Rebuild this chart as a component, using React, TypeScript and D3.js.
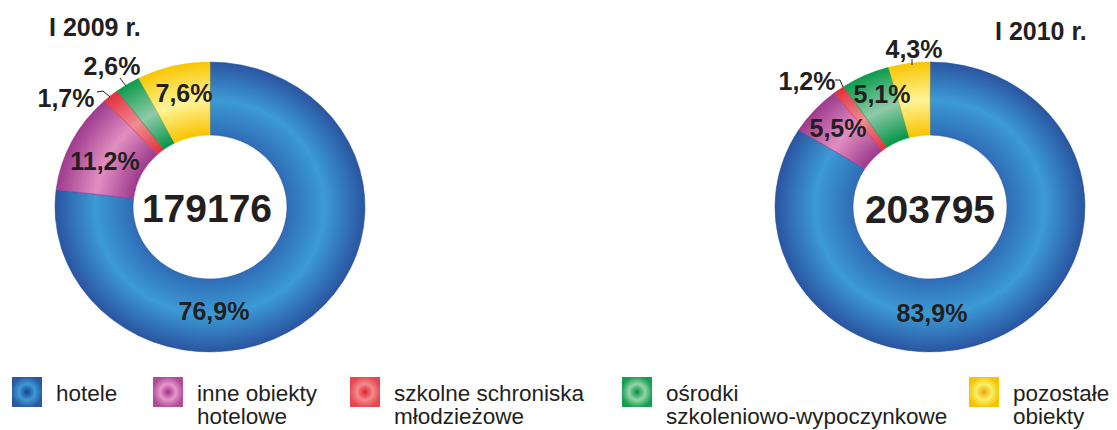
import React from "react";
import * as d3 from "d3";

const categories = [
  "hotele",
  "inne obiekty hotelowe",
  "szkolne schroniska młodzieżowe",
  "ośrodki szkoleniowo-wypoczynkowe",
  "pozostałe obiekty",
];
const legendLines = [
  ["hotele"],
  ["inne obiekty", "hotelowe"],
  ["szkolne schroniska", "młodzieżowe"],
  ["ośrodki", "szkoleniowo-wypoczynkowe"],
  ["pozostałe", "obiekty"],
];
const values2009 = [76.9, 11.2, 1.7, 2.6, 7.6];
const values2010 = [83.9, 5.5, 1.2, 5.1, 4.3];
const titles = ["I 2009 r.", "I 2010 r."];
const totals = ["179176", "203795"];

// styling
const ringColors = [
  { inner: "#2f6db6", mid: "#3c9ad5", outer: "#2a55a0" },
  { inner: "#9c3a8c", mid: "#e28ec2", outer: "#9e3a8e" },
  { inner: "#e1323c", mid: "#f18c92", outer: "#e0303e" },
  { inner: "#07954a", mid: "#8fcaa9", outer: "#0c9c4c" },
  { inner: "#f8c400", mid: "#fff49a", outer: "#f8c600" },
];
const swatchColors = [
  ["#1c3c92", "#3c9ad5", "#2a58a2"],
  ["#a3328a", "#e596c6", "#b04a9a"],
  ["#e32228", "#f28a8c", "#e54650"],
  ["#008e3c", "#95d3a8", "#12a04e"],
  ["#f3a800", "#f8f068", "#f8c200"],
];

const W = 1117;
const H = 430;
const R_OUT = 155;
const R_IN = 77;
const SY = 0.935;
const FONT = "'Liberation Sans', Arial, Helvetica, sans-serif";
const TXT = "#231f20";

const donuts = [
  {
    cx: 210,
    cy: 207,
    values: values2009,
    title: titles[0],
    titlePos: [49, 36],
    total: totals[0],
    totalPos: [207, 222],
    labels: [
      [214, 320],
      [105, 170],
      [66, 107],
      [112, 75],
      [184, 102],
    ],
    leaders: [null, null, [[97, 92], [103, 91], [110, 97]], [[120, 78], [126, 86]], null],
  },
  {
    cx: 930,
    cy: 207,
    values: values2010,
    title: titles[1],
    titlePos: [995, 40],
    total: totals[1],
    totalPos: [930, 223],
    labels: [
      [932, 322],
      [838, 137],
      [807, 90],
      [882, 103],
      [914, 58],
    ],
    leaders: [null, null, [[835, 80], [840, 80], [843, 87]], null, [[912, 59], [912, 65]]],
  },
];

const legendX = [12, 153, 350, 622, 969];

export default function App() {
  const pie = d3
    .pie<number>()
    .sort(null)
    .value((d) => d)
    .startAngle(0)
    .endAngle(2 * Math.PI);
  const arc = d3
    .arc<d3.PieArcDatum<number>>()
    .innerRadius(R_IN)
    .outerRadius(R_OUT);
  const fmt = (v: number) => d3.format(".1f")(v).replace(".", ",") + "%";
  const line = d3.line();

  return (
    <svg
      width={W}
      height={H}
      style={{ position: "absolute", left: 0, top: 0, background: "#fff" }}
      fontFamily={FONT}
    >
      <defs>
        {ringColors.map((c, i) => (
          <radialGradient
            key={i}
            id={`ring${i}`}
            gradientUnits="userSpaceOnUse"
            cx={0}
            cy={0}
            r={R_OUT}
          >
            <stop offset={R_IN / R_OUT} stopColor={c.inner} />
            <stop offset={0.74} stopColor={c.mid} />
            <stop offset={1} stopColor={c.outer} />
          </radialGradient>
        ))}
        {swatchColors.map((c, i) => (
          <radialGradient key={i} id={`sw${i}`} cx="0.5" cy="0.5" r="0.7">
            <stop offset={0} stopColor={c[0]} />
            <stop offset={0.38} stopColor={c[1]} />
            <stop offset={0.75} stopColor={c[2]} />
            <stop offset={1} stopColor={c[2]} />
          </radialGradient>
        ))}
      </defs>

      {donuts.map((d, di) => {
        const arcs = pie(d.values);
        return (
          <g key={di}>
            <g transform={`translate(${d.cx},${d.cy}) scale(1,${SY})`}>
              {arcs.map((a, i) => (
                <path
                  key={i}
                  d={arc(a) || ""}
                  fill={`url(#ring${i})`}
                  stroke={ringColors[i].outer}
                  strokeWidth={0.6}
                />
              ))}
            </g>
            <text
              x={d.titlePos[0]}
              y={d.titlePos[1]}
              fontSize={25}
              fontWeight="bold"
              fill={TXT}
            >
              {d.title}
            </text>
            <text
              x={d.totalPos[0]}
              y={d.totalPos[1]}
              fontSize={39}
              fontWeight="bold"
              textAnchor="middle"
              fill={TXT}
            >
              {d.total}
            </text>
            {d.leaders.map((l, i) =>
              l ? (
                <path
                  key={`l${i}`}
                  d={line(l as [number, number][]) || ""}
                  fill="none"
                  stroke={TXT}
                  strokeWidth={1}
                />
              ) : null
            )}
            {d.values.map((v, i) => (
              <text
                key={`t${i}`}
                x={d.labels[i][0]}
                y={d.labels[i][1]}
                fontSize={25}
                fontWeight="bold"
                textAnchor="middle"
                fill={TXT}
              >
                {fmt(v)}
              </text>
            ))}
          </g>
        );
      })}

      {categories.map((c, i) => (
        <g key={c}>
          <rect
            x={legendX[i]}
            y={377}
            width={30}
            height={30}
            fill={`url(#sw${i})`}
          />
          {legendLines[i].map((ln, j) => (
            <text
              key={j}
              x={legendX[i] + 44}
              y={401 + j * 23}
              fontSize={22.5}
              fill={TXT}
            >
              {ln}
            </text>
          ))}
        </g>
      ))}
    </svg>
  );
}
